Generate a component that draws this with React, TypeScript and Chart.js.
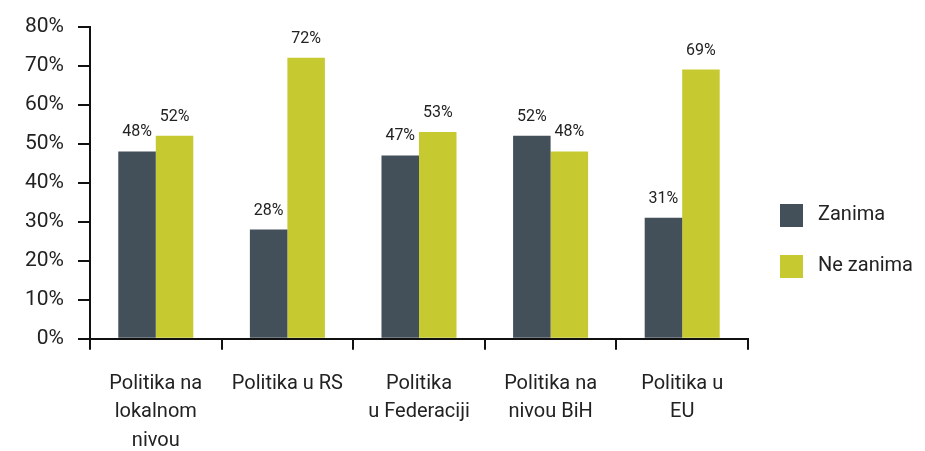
import React, { useEffect, useRef } from "react";
import { Chart, registerables } from "chart.js";

Chart.register(...registerables);

const categories: string[][] = [
  ["Politika na", "lokalnom", "nivou"],
  ["Politika u RS"],
  ["Politika", "u Federaciji"],
  ["Politika na", "nivou BiH"],
  ["Politika u", "EU"],
];
const seriesNames = ["Zanima", "Ne zanima"];
const zanima = [48, 28, 47, 52, 31];
const neZanima = [52, 72, 53, 48, 69];
const yTicks = [0, 10, 20, 30, 40, 50, 60, 70, 80];

const FONT = '"Roboto", "DejaVu Sans Condensed", sans-serif';
const DARK = "#434f59";
const LIME = "#c6c92f";

const valueLabels = {
  id: "valueLabels",
  afterDatasetsDraw(chart: any) {
    const ctx = chart.ctx;
    ctx.save();
    ctx.font = `16px ${FONT}`;
    ctx.fillStyle = "#222";
    ctx.textAlign = "center";
    ctx.textBaseline = "bottom";
    chart.data.datasets.forEach((ds: any, i: number) => {
      const meta = chart.getDatasetMeta(i);
      meta.data.forEach((bar: any, j: number) => {
        ctx.fillText(`${ds.data[j]}%`, bar.x, bar.y - 11);
      });
    });
    ctx.restore();
  },
};

const customLegend = {
  id: "customLegend",
  afterDraw(chart: any) {
    const ctx = chart.ctx;
    ctx.save();
    ctx.font = `20px ${FONT}`;
    ctx.textBaseline = "middle";
    ctx.textAlign = "left";
    const x = chart.chartArea.right + 32;
    const ys = [215, 266];
    chart.data.datasets.forEach((ds: any, i: number) => {
      ctx.fillStyle = ds.backgroundColor;
      ctx.fillRect(x, ys[i] - 11, 23, 23);
      ctx.fillStyle = "#222";
      ctx.fillText(ds.label, x + 38, ys[i]);
    });
    ctx.restore();
  },
};

export default function App() {
  const ref = useRef<HTMLCanvasElement>(null);
  useEffect(() => {
    if (!ref.current) return;
    const chart = new Chart(ref.current, {
      type: "bar",
      data: {
        labels: categories,
        datasets: [
          { label: seriesNames[0], data: zanima, backgroundColor: DARK },
          { label: seriesNames[1], data: neZanima, backgroundColor: LIME },
        ],
      },
      options: {
        animation: false,
        responsive: true,
        maintainAspectRatio: false,
        layout: { padding: { top: 23, right: 177, left: 11, bottom: -24 } },
        datasets: { bar: { categoryPercentage: 0.57, barPercentage: 1 } } as any,
        plugins: {
          legend: { display: false },
          tooltip: { enabled: false },
        },
        scales: {
          x: {
            grid: {
              offset: true,
              drawOnChartArea: false,
              drawTicks: true,
              tickLength: 11,
              color: "#111",
              lineWidth: 2,
            },
            border: { display: true, color: "#111", width: 2 },
            ticks: {
              color: "#222",
              font: { family: FONT, size: 20, lineHeight: 1.42 },
              padding: 20,
              maxRotation: 0,
              autoSkip: false,
            },
          },
          y: {
            min: 0,
            max: 80,
            afterBuildTicks: (axis: any) => {
              axis.ticks = yTicks.map((v) => ({ value: v }));
            },
            grid: {
              drawOnChartArea: false,
              drawTicks: true,
              tickLength: 12,
              color: "#111",
              lineWidth: 2,
            },
            border: { display: true, color: "#111", width: 2 },
            ticks: {
              color: "#222",
              font: { family: FONT, size: 21 },
              padding: 14,
              callback: (v: any) => `${v}%`,
            },
          },
        },
      },
      plugins: [valueLabels, customLegend],
    });
    return () => chart.destroy();
  }, []);
  return (
    <div style={{ position: "fixed", left: 0, top: 0, width: 925, height: 451 }}>
      <canvas ref={ref} />
    </div>
  );
}
